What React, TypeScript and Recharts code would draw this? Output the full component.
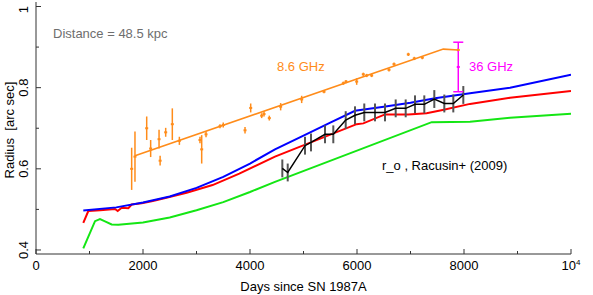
import React from 'react';
import { ComposedChart, Line, Scatter, XAxis, YAxis, ErrorBar, ReferenceDot } from 'recharts';

const FONT = '"Liberation Sans", Arial, Helvetica, sans-serif';

// ---- axes ----
const xTicks = [0, 1000, 2000, 3000, 4000, 5000, 6000, 7000, 8000, 9000, 10000];
const xMajorLabels = ['0', '2000', '4000', '6000', '8000'];
const yTicks = [0.4, 0.5, 0.6, 0.7, 0.8, 0.9, 1.0];
const yMajorLabels = ['0.4', '0.6', '0.8', '1'];
const xDomain = [0, 10000];
const yDomain = [0.3901, 1.0111];

// ---- model curves ----
const blueDays = [884, 1500, 2000, 2500, 3000, 3500, 4000, 4467, 5000, 5500, 5963, 6500, 7000, 7458, 8112, 8860, 10000];
const blueRadius = [0.497, 0.505, 0.517, 0.532, 0.553, 0.580, 0.613, 0.648, 0.682, 0.714, 0.743, 0.753, 0.763, 0.774, 0.786, 0.800, 0.832];

const redDays = [884, 978, 1200, 1477, 1527, 1602, 1726, 1788, 1975, 2162, 2380, 2816, 3300, 3800, 4467, 5994, 6118, 6523, 6959, 7300, 7600, 8112, 8860, 10000];
const redRadius = [0.467, 0.496, 0.498, 0.501, 0.496, 0.504, 0.503, 0.512, 0.515, 0.520, 0.527, 0.541, 0.560, 0.588, 0.630, 0.710, 0.712, 0.734, 0.734, 0.737, 0.745, 0.760, 0.775, 0.792];

const greenDays = [884, 1103, 1196, 1300, 1414, 1539, 2000, 2500, 3000, 3500, 4000, 4467, 7396, 8112, 8860, 10000];
const greenRadius = [0.404, 0.471, 0.476, 0.470, 0.463, 0.462, 0.468, 0.480, 0.498, 0.518, 0.543, 0.568, 0.715, 0.716, 0.726, 0.736];

// ---- 8.6 GHz fit line ----
const fitDays = [1850, 7613, 7893];
const fitRadius = [0.632, 0.895, 0.893];

// ---- 8.6 GHz data ----
const radioDays = [1788, 1850, 2069, 2143, 2300, 2320, 2424, 2548, 2680, 3065, 3097, 3178, 3439, 3500, 3907, 4013, 4218, 4262, 4361, 4573, 4966, 5383, 5745, 5794, 5994, 6118, 6181, 6274, 6598, 6692, 6959, 7071, 7221, 7893];
const radioRadius = [0.600, 0.630, 0.700, 0.650, 0.673, 0.620, 0.690, 0.710, 0.669, 0.671, 0.648, 0.685, 0.705, 0.708, 0.695, 0.750, 0.731, 0.735, 0.725, 0.753, 0.771, 0.790, 0.811, 0.815, 0.815, 0.833, 0.830, 0.830, 0.844, 0.858, 0.882, 0.872, 0.874, 0.893];
const radioErr = [0.052, 0.062, 0.029, 0.021, 0.023, 0.012, 0.011, 0.039, 0.010, 0.008, 0.035, 0.007, 0.005, 0.006, 0.008, 0.011, 0.006, 0.006, 0.006, 0.009, 0.009, 0.004, 0.004, 0.004, 0.008, 0.004, 0.004, 0.004, 0.004, 0.004, 0.004, 0.004, 0.004, 0.004];

// ---- 36 GHz ----
const ghz36Days = [7893];
const ghz36Radius = [0.851];
const ghz36Err = [0.061];

// ---- r_o, Racusin+ (2009) ----
const xrayDays = [4604, 4705, 5028, 5140, 5402, 5557, 5789, 5963, 6136, 6336, 6523, 6723, 6910, 7084, 7258, 7445, 7632, 7800, 7987];
const xrayRadius = [0.601, 0.591, 0.657, 0.665, 0.685, 0.685, 0.720, 0.732, 0.739, 0.739, 0.739, 0.749, 0.749, 0.759, 0.759, 0.772, 0.761, 0.761, 0.782];
const xrayErr = [0.022, 0.022, 0.022, 0.022, 0.022, 0.022, 0.022, 0.022, 0.022, 0.022, 0.022, 0.022, 0.022, 0.022, 0.022, 0.022, 0.022, 0.022, 0.022];

// ---- annotations ----
const noteTexts = ['Distance = 48.5 kpc', '8.6 GHz', '36 GHz', 'r_o , Racusin+ (2009)'];
const noteDays = [318, 4505, 8093, 6467];
const noteRadius = [0.9224, 0.840, 0.840, 0.598];
const noteColors = ['#6e6e6e', '#ff8c1a', '#ff00ff', '#000000'];

const pts = (days: number[], rs: number[], errs?: number[]) =>
  days.map((d, i) => ({ d, r: rs[i], err: errs ? errs[i] : 0 }));

const blueData = pts(blueDays, blueRadius);
const redData = pts(redDays, redRadius);
const greenData = pts(greenDays, greenRadius);
const fitData = pts(fitDays, fitRadius);
const radioData = pts(radioDays, radioRadius, radioErr);
const ghz36Data = pts(ghz36Days, ghz36Radius, ghz36Err);
const xrayData = pts(xrayDays, xrayRadius, xrayErr);

const AXIS = '#333';

const BottomTick = (props: any) => {
  const { x, y, payload } = props;
  const v = payload.value;
  const major = v % 2000 === 0;
  const label = String(v);
  return (
    <g>
      <line x1={x} x2={x} y1={y} y2={y - (major ? 5 : 3)} stroke={AXIS} strokeWidth={1} />
      {v === 10000 ? (
        <text x={x} y={y + 16} textAnchor="middle" fontSize={13} fontFamily={FONT} fill="#000">
          10<tspan fontSize={8} dy={-5}>4</tspan>
        </text>
      ) : major && xMajorLabels.includes(label) ? (
        <text x={x} y={y + 16} textAnchor="middle" fontSize={13} fontFamily={FONT} fill="#000">
          {label}
        </text>
      ) : null}
    </g>
  );
};

const TopTick = (props: any) => {
  const { x, y, payload } = props;
  const major = payload.value % 2000 === 0;
  return <line x1={x} x2={x} y1={y} y2={y + (major ? 5 : 3)} stroke={AXIS} strokeWidth={1} />;
};

const LeftTick = (props: any) => {
  const { x, y, payload } = props;
  const v = payload.value;
  const idx = Math.round(v * 10);
  const major = idx % 2 === 0;
  const label = idx === 10 ? '1' : v.toFixed(1);
  const ty = idx === 10 ? y + 3 : y;
  return (
    <g>
      <line x1={x} x2={x + (major ? 5 : 3)} y1={y} y2={y} stroke={AXIS} strokeWidth={1} />
      {major && yMajorLabels.includes(label) ? (
        <text
          x={x - 8}
          y={ty}
          textAnchor="middle"
          fontSize={13}
          fontFamily={FONT}
          fill="#000"
          transform={`rotate(-90, ${x - 8}, ${ty})`}
        >
          {label}
        </text>
      ) : null}
    </g>
  );
};

const RightTick = (props: any) => {
  const { x, y, payload } = props;
  const major = Math.round(payload.value * 10) % 2 === 0;
  return <line x1={x} x2={x - (major ? 5 : 3)} y1={y} y2={y} stroke={AXIS} strokeWidth={1} />;
};

const xLabel = (p: any) => {
  const vb = p.viewBox;
  return (
    <text x={vb.x + vb.width / 2} y={vb.y + 37} textAnchor="middle" fontSize={13} fontFamily={FONT} fill="#000">
      Days since SN 1987A
    </text>
  );
};

const yLabel = (p: any) => {
  const vb = p.viewBox;
  const cx = 14;
  const cy = vb.y + 128;
  return (
    <text
      x={cx}
      y={cy}
      textAnchor="middle"
      fontSize={13}
      fontFamily={FONT}
      fill="#000"
      style={{ whiteSpace: 'pre' }}
      transform={`rotate(-90, ${cx}, ${cy})`}
    >
      {'Radius  [arc sec]'}
    </text>
  );
};

const noteLabel = (text: string, color: string) => (p: any) => {
  const vb = p.viewBox;
  return (
    <text x={vb.x} y={vb.y} fontSize={13} fontFamily={FONT} fill={color} textAnchor="start">
      {text}
    </text>
  );
};

const smallDot = (color: string) => (p: any) => (
  <rect x={p.cx - 1.5} y={p.cy - 1} width={3} height={2} fill={color} />
);

export default function App() {
  return (
    <div style={{ position: 'absolute', left: 0, top: 0, width: 593, height: 295, background: '#fff' }}>
      <ComposedChart width={593} height={295} margin={{ top: 2, right: 22, bottom: 0, left: 0 }}>
        <XAxis
          dataKey="d"
          type="number"
          domain={xDomain}
          ticks={xTicks}
          interval={0}
          allowDataOverflow
          height={41}
          tickSize={0}
          tickMargin={0}
          tickLine={false}
          axisLine={{ stroke: AXIS }}
          tick={<BottomTick />}
          label={xLabel}
        />
        <XAxis
          xAxisId="top"
          orientation="top"
          dataKey="d"
          type="number"
          domain={xDomain}
          ticks={xTicks}
          interval={0}
          allowDataOverflow
          height={0}
          tickSize={0}
          tickMargin={0}
          tickLine={false}
          axisLine={{ stroke: AXIS }}
          tick={<TopTick />}
        />
        <YAxis
          type="number"
          domain={yDomain}
          ticks={yTicks}
          interval={0}
          allowDataOverflow
          width={36}
          tickSize={0}
          tickMargin={0}
          tickLine={false}
          axisLine={{ stroke: AXIS }}
          tick={<LeftTick />}
          label={yLabel}
        />
        <YAxis
          yAxisId="right"
          orientation="right"
          type="number"
          domain={yDomain}
          ticks={yTicks}
          interval={0}
          allowDataOverflow
          width={0}
          tickSize={0}
          tickMargin={0}
          tickLine={false}
          axisLine={{ stroke: AXIS }}
          tick={<RightTick />}
        />

        <Line data={greenData} dataKey="r" type="linear" stroke="#14e614" strokeWidth={2} dot={false} isAnimationActive={false} />
        <Line data={redData} dataKey="r" type="linear" stroke="#ff0000" strokeWidth={2} dot={false} isAnimationActive={false} />
        <Line data={blueData} dataKey="r" type="linear" stroke="#0000ff" strokeWidth={2} dot={false} isAnimationActive={false} />

        <Line data={fitData} dataKey="r" type="linear" stroke="#ff8c1a" strokeWidth={1.6} dot={false} isAnimationActive={false} />
        <Scatter data={radioData} dataKey="r" fill="#ff8c1a" shape={smallDot('#ff8c1a')} isAnimationActive={false}>
          <ErrorBar dataKey="err" direction="y" width={0} stroke="#ff8c1a" strokeWidth={1.5} />
        </Scatter>

        <Line data={xrayData} dataKey="r" type="linear" stroke="#000000" strokeWidth={1.5} dot={false} isAnimationActive={false}>
          <ErrorBar dataKey="err" direction="y" width={0} stroke="#555555" strokeWidth={2} />
        </Line>

        <Scatter data={ghz36Data} dataKey="r" fill="#ff00ff" shape={smallDot('#ff00ff')} isAnimationActive={false}>
          <ErrorBar dataKey="err" direction="y" width={5} stroke="#ff00ff" strokeWidth={1.5} />
        </Scatter>

        {noteTexts.map((t, i) => (
          <ReferenceDot
            key={t}
            x={noteDays[i]}
            y={noteRadius[i]}
            r={0}
            fill="none"
            stroke="none"
            ifOverflow="visible"
            label={noteLabel(t, noteColors[i])}
          />
        ))}
      </ComposedChart>
    </div>
  );
}
